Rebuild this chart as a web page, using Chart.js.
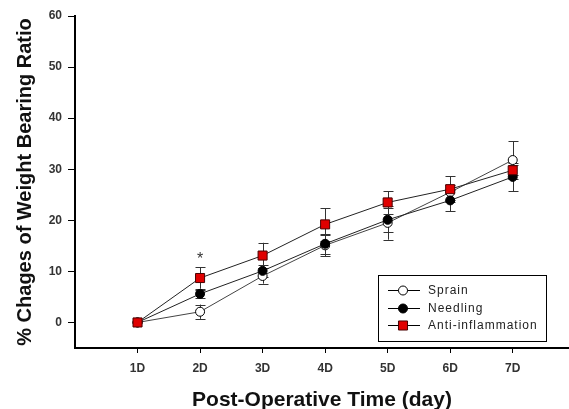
<!DOCTYPE html>
<html>
<head>
<meta charset="utf-8">
<script src="https://cdn.jsdelivr.net/npm/chart.js@4.4.1/dist/chart.umd.min.js"></script>
<style>
	html, body { margin: 0; padding: 0; background: #fff; }
	#wrap { width: 569px; height: 409px; }
</style>
</head>
<body>
<div id="wrap"><canvas id="weight-chart" width="569" height="409"></canvas></div>
<script>
	'use strict';

	// Data.
	const days = [1, 2, 3, 4, 5, 6, 7];
	const dayLabels = ['1D', '2D', '3D', '4D', '5D', '6D', '7D'];
	const yTicks = [0, 10, 20, 30, 40, 50, 60];

	const sprain = [0, 2.1, 9.1, 15.1, 19.5, 25.5, 31.8];
	const sprainErr = [0, 1.4, 1.5, 2.1, 3.3, 1.5, 3.7];
	const needling = [0, 5.6, 10.1, 15.4, 20.1, 23.9, 28.5];
	const needlingErr = [0, 0.8, 1.2, 1.9, 2.3, 2.1, 2.8];
	const antiInflam = [0, 8.7, 13.1, 19.2, 23.5, 26.1, 29.8];
	const antiInflamErr = [0, 2.1, 2.5, 3.2, 2.2, 2.5, 1.0];

	const fontFamily = "'Liberation Sans', Arial, sans-serif";

	function toPoints(values) {
		return values.map(function(v, i) { return { x: days[i], y: v }; });
	}

	// Error bars, drawn under the markers.
	const errorBars = {
		id: 'errorBars',
		beforeDatasetsDraw: function(chart) {
			const ctx = chart.ctx;
			const xs = chart.scales.x;
			const ys = chart.scales.y;
			ctx.save();
			ctx.strokeStyle = '#333';
			ctx.lineWidth = 1;
			chart.data.datasets.forEach(function(ds) {
				ds.errors.forEach(function(e, i) {
					if (!e) return;
					const px = Math.round(xs.getPixelForValue(days[i])) + 0.5;
					const top = ys.getPixelForValue(ds.data[i].y + e);
					const bot = ys.getPixelForValue(ds.data[i].y - e);
					ctx.beginPath();
					ctx.moveTo(px, top); ctx.lineTo(px, bot);
					ctx.moveTo(px - 5, Math.round(top) + 0.5); ctx.lineTo(px + 5, Math.round(top) + 0.5);
					ctx.moveTo(px - 5, Math.round(bot) + 0.5); ctx.lineTo(px + 5, Math.round(bot) + 0.5);
					ctx.stroke();
				});
			});
			ctx.restore();
		}
	};

	// Significance star and boxed legend.
	const extras = {
		id: 'extras',
		afterDraw: function(chart) {
			const ctx = chart.ctx;
			const xs = chart.scales.x;
			const ys = chart.scales.y;
			ctx.save();

			// star above the 2D anti-inflammation bar
			ctx.fillStyle = '#333';
			ctx.font = '16px ' + fontFamily;
			ctx.textAlign = 'center';
			ctx.textBaseline = 'middle';
			ctx.fillText('*', xs.getPixelForValue(2), ys.getPixelForValue(antiInflam[1] + antiInflamErr[1]) - 8);

			// legend box
			ctx.strokeStyle = '#000';
			ctx.lineWidth = 1;
			ctx.strokeRect(378.5, 275.5, 168, 66);
			const order = [2, 1, 0];
			ctx.font = '12px ' + fontFamily;
			ctx.textAlign = 'left';
			order.forEach(function(di, row) {
				const ds = chart.data.datasets[di];
				const y = 290 + row * 17.5;
				ctx.strokeStyle = '#000';
				ctx.beginPath();
				ctx.moveTo(388, Math.round(y) + 0.5);
				ctx.lineTo(420, Math.round(y) + 0.5);
				ctx.stroke();
				ctx.fillStyle = ds.pointBackgroundColor;
				ctx.strokeStyle = ds.pointBorderColor;
				Chart.helpers.drawPoint(ctx, {
					pointStyle: ds.pointStyle,
					radius: ds.pointRadius,
					borderWidth: 1,
					rotation: 0
				}, 403, Math.round(y) + 0.5);
				ctx.fillStyle = '#222';
				ctx.letterSpacing = '1px';
				ctx.fillText(ds.label, 428, y + 1);
				ctx.letterSpacing = '0px';
			});
			ctx.restore();
		}
	};

	new Chart(document.getElementById('weight-chart'), {
		type: 'line',
		data: {
			datasets: [
				{
					label: 'Anti-inflammation',
					data: toPoints(antiInflam),
					errors: antiInflamErr,
					borderColor: '#222',
					borderWidth: 1,
					pointStyle: 'rect',
					pointRadius: 6.4,
					pointBackgroundColor: '#e00000',
					pointBorderColor: '#4a0000',
					pointBorderWidth: 1,
					tension: 0
				},
				{
					label: 'Needling',
					data: toPoints(needling),
					errors: needlingErr,
					borderColor: '#222',
					borderWidth: 1,
					pointStyle: 'circle',
					pointRadius: 4.5,
					pointBackgroundColor: '#000',
					pointBorderColor: '#000',
					pointBorderWidth: 1,
					tension: 0
				},
				{
					label: 'Sprain',
					data: toPoints(sprain),
					errors: sprainErr,
					borderColor: '#444',
					borderWidth: 1,
					pointStyle: 'circle',
					pointRadius: 4.5,
					pointBackgroundColor: '#fff',
					pointBorderColor: '#000',
					pointBorderWidth: 1,
					tension: 0
				}
			]
		},
		options: {
			responsive: false,
			animation: false,
			devicePixelRatio: 1,
			layout: { autoPadding: false, padding: { top: 16, right: 0, left: 0, bottom: 0 } },
			plugins: {
				legend: { display: false },
				tooltip: { enabled: false }
			},
			scales: {
				x: {
					type: 'linear',
					min: 0,
					max: 7.9,
					afterBuildTicks: function(scale) {
						scale.ticks = days.map(function(d) { return { value: d }; });
					},
					afterFit: function(scale) { scale.height = 61; },
					ticks: {
						autoSkip: false,
						maxRotation: 0,
						padding: 8,
						color: '#333',
						font: { size: 12, weight: 'bold', family: fontFamily },
						callback: function(v) { return dayLabels[days.indexOf(v)]; }
					},
					grid: { drawOnChartArea: false, drawTicks: true, tickLength: 5, color: '#000' },
					border: { color: '#000', width: 2 },
					title: {
						display: true,
						text: 'Post-Operative Time (day)',
						color: '#111',
						font: { size: 21, weight: 'bold', family: fontFamily },
						padding: { top: 8, bottom: -4 }
					}
				},
				y: {
					min: -5,
					max: 60,
					afterBuildTicks: function(scale) {
						scale.ticks = yTicks.map(function(v) { return { value: v }; });
					},
					afterFit: function(scale) { scale.width = 75; },
					ticks: {
						padding: 6,
						color: '#333',
						font: { size: 12, weight: 'bold', family: fontFamily }
					},
					grid: { drawOnChartArea: false, drawTicks: true, tickLength: 7, color: '#000' },
					border: { color: '#000', width: 2 },
					title: {
						display: true,
						text: '% Chages of Weight Bearing Ratio',
						color: '#111',
						font: { size: 20, weight: 'bold', family: fontFamily },
						padding: { top: 13, bottom: 6 }
					}
				}
			}
		},
		plugins: [errorBars, extras]
	});
</script>
</body>
</html>
